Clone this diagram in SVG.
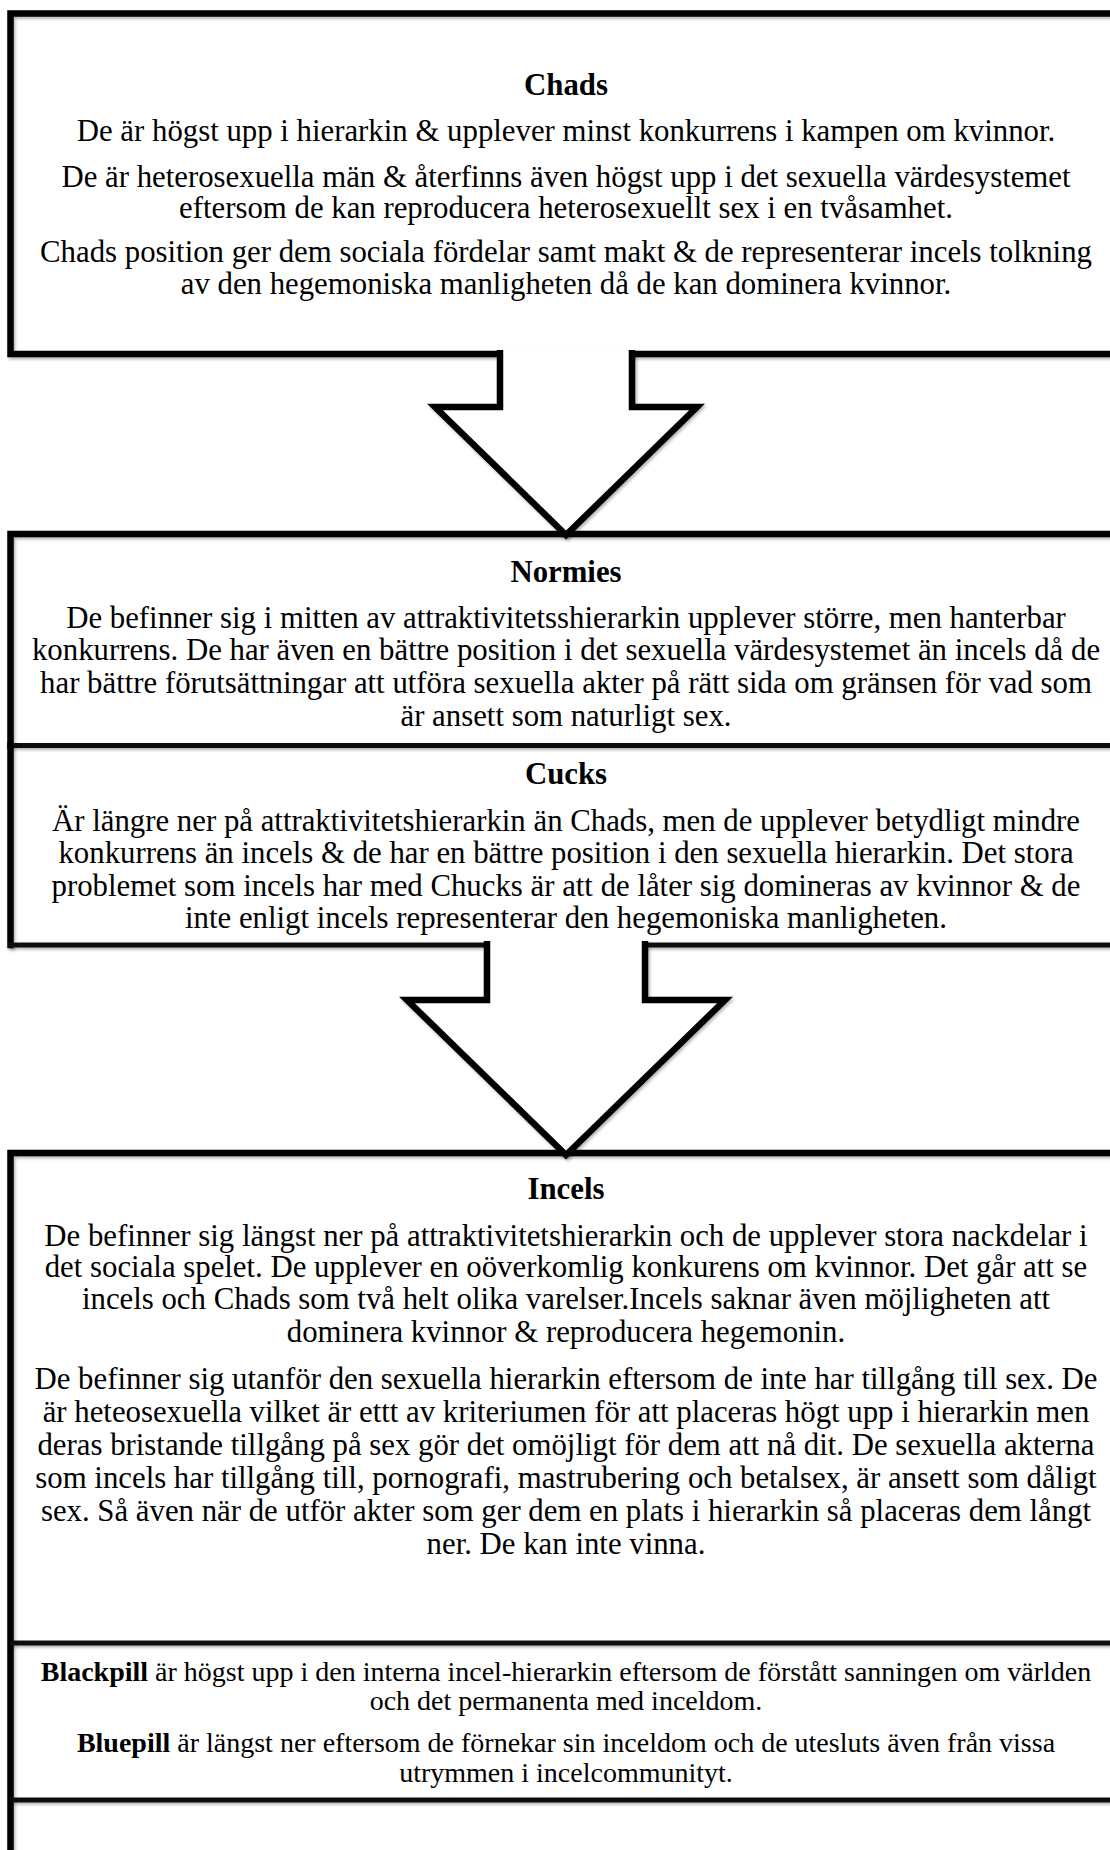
<svg xmlns="http://www.w3.org/2000/svg" width="1110" height="1850" viewBox="0 0 1110 1850">
<style>
.bg{fill:#ffffff}
.ln{fill:none;stroke:#000;stroke-width:6.5;stroke-linejoin:miter;stroke-linecap:square}
.sep{fill:none;stroke:#111;stroke-width:5;stroke-linecap:butt}
.arrow{fill:#ffffff;stroke:#000;stroke-width:6.5;stroke-linejoin:miter;stroke-linecap:butt}
.t{font-family:"Liberation Serif","Times New Roman",serif;font-size:30.8px;fill:#000;text-anchor:middle}
.s{font-family:"Liberation Serif","Times New Roman",serif;font-size:28px;fill:#000;text-anchor:middle}
.b{font-weight:bold}
</style>
<defs>
<filter id="sh" filterUnits="userSpaceOnUse" x="0" y="0" width="1110" height="1850">
<feDropShadow dx="1.5" dy="2" stdDeviation="1.5" flood-color="#000" flood-opacity="0.3"/>
</filter>
</defs>
<rect x="0" y="0" width="1110" height="1850" fill="#ffffff"/>

<g id="chads">
<rect class="bg" x="10.5" y="13.5" width="1120" height="340.5"/>
<path class="ln" filter="url(#sh)" d="M1125,13.5 H10.5 V354 H1125"/>
<text class="t b" x="566" y="95">Chads</text>
<text class="t" x="566" y="141">De är högst upp i hierarkin &amp; upplever minst konkurrens i kampen om kvinnor.</text>
<text class="t" x="566" y="187">De är heterosexuella män &amp; återfinns även högst upp i det sexuella värdesystemet</text>
<text class="t" x="566" y="218">eftersom de kan reproducera heterosexuellt sex i en tvåsamhet.</text>
<text class="t" x="566" y="262">Chads position ger dem sociala fördelar samt makt &amp; de representerar incels tolkning</text>
<text class="t" x="566" y="294">av den hegemoniska manligheten då de kan dominera kvinnor.</text>
</g>

<g id="normies">
<rect class="bg" x="10.5" y="534" width="1120" height="211.5"/>
<path class="ln" filter="url(#sh)" d="M1125,534 H10.5 V745.5"/>
<text class="t b" x="566" y="582">Normies</text>
<text class="t" x="566" y="628">De befinner sig i mitten av attraktivitetsshierarkin upplever större, men hanterbar</text>
<text class="t" x="566" y="660">konkurrens. De har även en bättre position i det sexuella värdesystemet än incels då de</text>
<text class="t" x="566" y="693">har bättre förutsättningar att utföra sexuella akter på rätt sida om gränsen för vad som</text>
<text class="t" x="566" y="726">är ansett som naturligt sex.</text>
</g>

<g id="cucks">
<rect class="bg" x="10.5" y="745.5" width="1120" height="199.5"/>
<path class="sep" filter="url(#sh)" d="M10.5,745.5 H1125"/>
<path class="ln" filter="url(#sh)" d="M10.5,745.5 V945"/>
<path class="sep" filter="url(#sh)" d="M8,945 H1125"/>
<text class="t b" x="566" y="784">Cucks</text>
<text class="t" x="566" y="831">Är längre ner på attraktivitetshierarkin än Chads, men de upplever betydligt mindre</text>
<text class="t" x="566" y="863">konkurrens än incels &amp; de har en bättre position i den sexuella hierarkin. Det stora</text>
<text class="t" x="566" y="896">problemet som incels har med Chucks är att de låter sig domineras av kvinnor &amp; de</text>
<text class="t" x="566" y="928">inte enligt incels representerar den hegemoniska manligheten.</text>
</g>

<g id="incels">
<rect class="bg" x="10.5" y="1153" width="1120" height="490"/>
<path class="ln" filter="url(#sh)" d="M1125,1153 H10.5 V1860"/>
<text class="t b" x="566" y="1199">Incels</text>
<text class="t" x="566" y="1246">De befinner sig längst ner på attraktivitetshierarkin och de upplever stora nackdelar i</text>
<text class="t" x="566" y="1277">det sociala spelet. De upplever en oöverkomlig konkurens om kvinnor. Det går att se</text>
<text class="t" x="566" y="1309">incels och Chads som två helt olika varelser.Incels saknar även möjligheten att</text>
<text class="t" x="566" y="1342">dominera kvinnor &amp; reproducera hegemonin.</text>
<text class="t" x="566" y="1389">De befinner sig utanför den sexuella hierarkin eftersom de inte har tillgång till sex. De</text>
<text class="t" x="566" y="1422">är heteosexuella vilket är ettt av kriteriumen för att placeras högt upp i hierarkin men</text>
<text class="t" x="566" y="1455">deras bristande tillgång på sex gör det omöjligt för dem att nå dit. De sexuella akterna</text>
<text class="t" x="566" y="1488">som incels har tillgång till, pornografi, mastrubering och betalsex, är ansett som dåligt</text>
<text class="t" x="566" y="1521">sex. Så även när de utför akter som ger dem en plats i hierarkin så placeras dem långt</text>
<text class="t" x="566" y="1554">ner. De kan inte vinna.</text>
</g>

<g id="pills">
<path class="sep" filter="url(#sh)" d="M10.5,1643 H1125"/>
<path class="sep" filter="url(#sh)" d="M10.5,1800 H1125"/>
<text class="s" x="566" y="1681"><tspan class="b">Blackpill</tspan> är högst upp i den interna incel-hierarkin eftersom de förstått sanningen om världen</text>
<text class="s" x="566" y="1710">och det permanenta med inceldom.</text>
<text class="s" x="566" y="1752"><tspan class="b">Bluepill</tspan> är längst ner eftersom de förnekar sin inceldom och de utesluts även från vissa</text>
<text class="s" x="566" y="1782">utrymmen i incelcommunityt.</text>
</g>

<g id="connectors">
<path class="arrow" filter="url(#sh)" d="M500,350 V407 H435 L566,535 L697,407 H632 V350"/>
<path class="arrow" filter="url(#sh)" d="M487,941 V1000 H407 L566,1155 L725,1000 H645 V941"/>
</g>
</svg>
